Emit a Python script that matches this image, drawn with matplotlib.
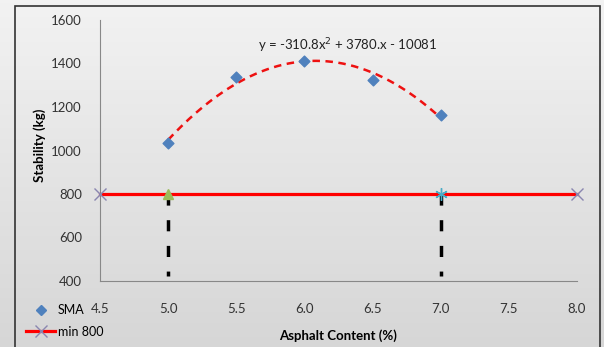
import numpy as np
import matplotlib.pyplot as plt
from matplotlib.lines import Line2D
from matplotlib.patches import Rectangle

plt.rcParams['font.family'] = ['Lato', 'DejaVu Sans']

# data
asphalt = [5.0, 5.5, 6.0, 6.5, 7.0]
stability = [1035, 1340, 1410, 1325, 1165]
# trendline y = -310.8x^2 + 3780x - 10081
coef = [-310.8, 3780.0, -10081.0]
min_x = [4.5, 8.0]
min_y = [800, 800]
cross_x = [5.0, 7.0]
cross_bottom = 425
xticks = [4.5, 5.0, 5.5, 6.0, 6.5, 7.0, 7.5, 8.0]
yticks = [400, 600, 800, 1000, 1200, 1400, 1600]

fig = plt.figure(figsize=(6.04, 3.47), dpi=100)

# gradient background with border
bg = fig.add_axes([0, 0, 1, 1], zorder=-1)
grad = np.linspace(0.95, 0.84, 100).reshape(-1, 1)
bg.imshow(np.dstack([grad, grad, grad]), aspect='auto', extent=[0, 1, 0, 1])
bg.add_patch(Rectangle((15/604, -0.1), (600-15)/604, 1.1 - 6/347, fill=False,
                       edgecolor='#333333', lw=1.2))
bg.set_xlim(0, 1)
bg.set_ylim(0, 1)
bg.axis('off')

ax = fig.add_axes([100/604, 1-281/347, 477/604, 261/347])
ax.patch.set_alpha(0)

# min 800 line
ax.plot(min_x, min_y, color='#ff0000', lw=2.3, marker='x', ms=9,
        mec='#8a86b0', mew=1.0, zorder=3, clip_on=False)
# crossing markers
ax.plot(cross_x[0], 800, marker='^', color='#9bbb59', ms=7, zorder=4)
ax.plot(cross_x[1], 800, marker=(6, 2, 0), color='#4bacc6', ms=9, mew=1, zorder=4)
# vertical dashed lines
for cx in cross_x:
    ax.plot([cx, cx], [800, cross_bottom], color='black', lw=2.5,
            dashes=(3.2, 4.2), zorder=2)

# trendline
xs = np.linspace(asphalt[0], asphalt[-1], 200)
ax.plot(xs, np.polyval(coef, xs), color='#ee1111', lw=1.8, dashes=(3, 2.2), zorder=3)
ax.scatter(asphalt, stability, marker='D', s=30, color='#4f81bd', zorder=4)

ax.text(6.32, 1440, 'y = -310.8x$^2$ + 3780.x - 10081', ha='center', va='bottom',
        fontsize=9.5, color='#222222')

ax.set_xlim(4.5, 8.0)
ax.set_ylim(400, 1600)
ax.set_xticks(xticks)
ax.set_xticklabels(['%.1f' % t for t in xticks])
ax.set_yticks(yticks)
for s in ['top', 'right']:
    ax.spines[s].set_visible(False)
for s in ['left', 'bottom']:
    ax.spines[s].set_color('#888888')
    ax.spines[s].set_linewidth(0.8)
ax.tick_params(length=0, labelsize=9.5, colors='#333333', pad=13)
ax.tick_params(axis='x', pad=16)

ax.set_xlabel('Asphalt Content (%)', fontsize=9.5, fontweight='bold', labelpad=10)
fig.text(40/604, 1-145/347, 'Stability (kg)', rotation=90, fontsize=9.5,
         fontweight='bold', ha='center', va='center')

handles = [Line2D([], [], marker='D', color='#4f81bd', ls='none', ms=5),
           Line2D([], [], color='#ff0000', lw=2.3, marker='x', ms=9,
                  mec='#8a86b0', mew=1.0)]
fig.legend(handles, ['SMA', 'min 800'], loc='lower left',
           bbox_to_anchor=(17/604, 0.0), frameon=False, fontsize=9,
           handlelength=2.3, handletextpad=0.2, labelspacing=0.75,
           borderpad=0.25)

fig.savefig('out.png', dpi=100)
